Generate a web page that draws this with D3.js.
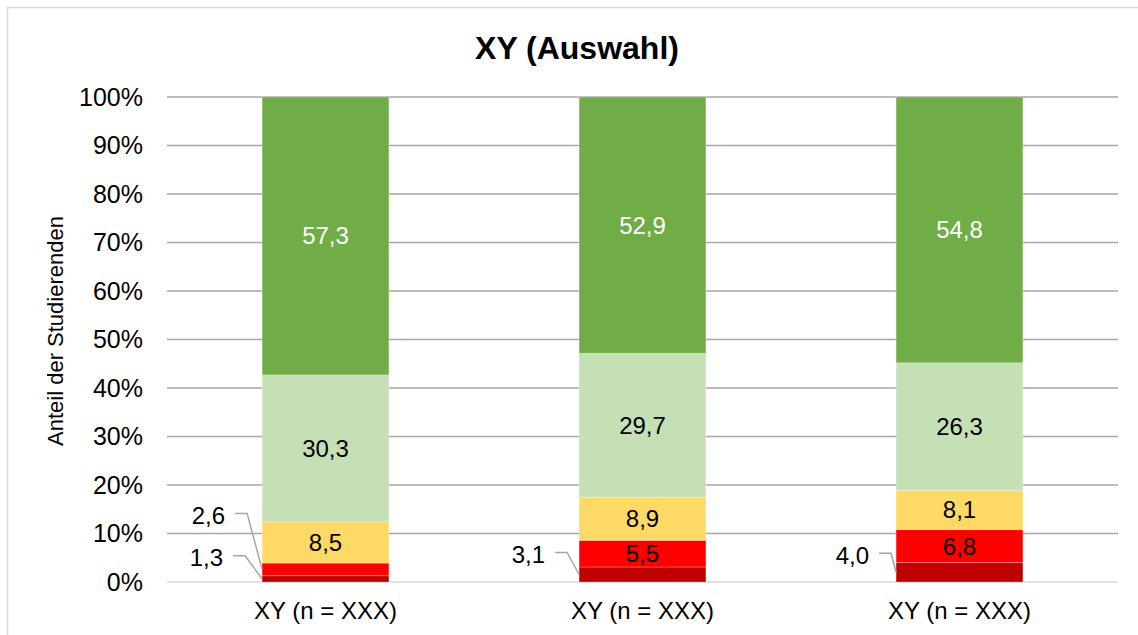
<!DOCTYPE html>
<html>
<head>
<meta charset="utf-8">
<script src="https://cdn.jsdelivr.net/npm/d3@7"></script>
<style>
    body { margin: 0; background: #fff; }
    text { font-family: "Liberation Sans", Arial, sans-serif; }
</style>
</head>
<body>
<div id="chart-container"></div>
<script>
// Daten (von unten nach oben gestapelt)
const categories = ["XY (n = XXX)", "XY (n = XXX)", "XY (n = XXX)"];
const seriesKeys = ["s1", "s2", "s3", "s4", "s5"];
const s1Values = [1.3, 3.1, 4.0];
const s2Values = [2.6, 5.5, 6.8];
const s3Values = [8.5, 8.9, 8.1];
const s4Values = [30.3, 29.7, 26.3];
const s5Values = [57.3, 52.9, 54.8];
const yTicks = [0, 0.1, 0.2, 0.3, 0.4, 0.5, 0.6, 0.7, 0.8, 0.9, 1.0];

const colors = ["#C00000", "#FF0000", "#FFD966", "#C5E0B4", "#70AD47"];
const labelColors = ["#000", "#000", "#000", "#000", "#fff"];

// Labels, die ausserhalb mit Fuehrungslinie stehen: [serie, kategorie, abstand links, hoehe ueber segment]
const outsideLabels = [
    { s: 0, c: 0, dx: 39, dy: -21 },
    { s: 1, c: 0, dx: 37, dy: -54 },
    { s: 0, c: 1, dx: 34, dy: -20 },
    { s: 0, c: 2, dx: 27, dy: -17 }
];

const allValues = [s1Values, s2Values, s3Values, s4Values, s5Values];
const rows = categories.map((name, i) => {
    const row = { idx: i, name: name };
    seriesKeys.forEach((k, j) => row[k] = allValues[j][i]);
    return row;
});

const fmt = v => v.toFixed(1).replace(".", ",");

function generateChart() {
    const W = 1138, H = 635;
    const margin = { top: 97, right: 20, bottom: 53, left: 167 };
    const width = W - margin.left - margin.right;
    const height = H - margin.top - margin.bottom;

    const root = d3.select("#chart-container").append("svg")
        .attr("width", W)
        .attr("height", H);

    root.append("rect")
        .attr("x", 7.5).attr("y", 7.5)
        .attr("width", 1160).attr("height", 660)
        .attr("fill", "#fff")
        .attr("stroke", "#D9D9D9")
        .attr("stroke-width", 1.5);

    root.append("text")
        .attr("x", 577)
        .attr("y", 59)
        .attr("text-anchor", "middle")
        .attr("font-size", "32px")
        .attr("font-weight", "bold")
        .text("XY (Auswahl)");

    root.append("text")
        .attr("transform", "translate(63,331) rotate(-90)")
        .attr("text-anchor", "middle")
        .attr("font-size", "22px")
        .text("Anteil der Studierenden");

    const svg = root.append("g")
        .attr("transform", `translate(${margin.left},${margin.top})`);

    const x = d3.scaleBand()
        .domain(rows.map(d => d.idx))
        .range([0, width])
        .padding(0);

    const y = d3.scaleLinear()
        .domain([0, 1])
        .range([height, 0]);

    const barW = x.bandwidth() * 0.4;
    const barX = i => x(i) + (x.bandwidth() - barW) / 2;

    // Gitterlinien
    svg.append("g")
        .selectAll("line")
        .data(yTicks)
        .enter().append("line")
        .attr("x1", 0).attr("x2", width)
        .attr("y1", d => y(d)).attr("y2", d => y(d))
        .attr("stroke", d => d === 0 ? "#D9D9D9" : "#A6A6A6")
        .attr("stroke-width", 1.5);

    // Y-Achse
    const yAxis = svg.append("g")
        .call(d3.axisLeft(y).tickValues(yTicks).tickFormat(d3.format(".0%")).tickSize(0).tickPadding(24));
    yAxis.select(".domain").remove();
    yAxis.selectAll("text")
        .attr("font-size", "25px")
        .attr("fill", "#000")
        .style("font-family", "'Liberation Sans', Arial, sans-serif");

    // X-Achse
    svg.append("g")
        .selectAll("text")
        .data(rows)
        .enter().append("text")
        .attr("x", d => x(d.idx) + x.bandwidth() / 2)
        .attr("y", 619 - margin.top)
        .attr("text-anchor", "middle")
        .attr("font-size", "24px")
        .text(d => d.name);

    const stacked = d3.stack()
        .keys(seriesKeys)
        .offset(d3.stackOffsetExpand)(rows);

    const layers = svg.selectAll(".layer")
        .data(stacked)
        .enter().append("g")
        .attr("class", "layer")
        .attr("fill", (d, i) => colors[i]);

    layers.selectAll("rect")
        .data(d => d)
        .enter().append("rect")
        .attr("x", d => barX(d.data.idx))
        .attr("y", d => y(d[1]))
        .attr("width", barW)
        .attr("height", d => y(d[0]) - y(d[1]))
        .attr("stroke", "rgba(255,255,255,0.25)")
        .attr("stroke-width", 1);

    const isOutside = (s, c) => outsideLabels.some(o => o.s === s && o.c === c);

    // Beschriftungen innen
    stacked.forEach((layer, s) => {
        layer.forEach((d, c) => {
            if (isOutside(s, c)) return;
            svg.append("text")
                .attr("x", barX(c) + barW / 2)
                .attr("y", (y(d[0]) + y(d[1])) / 2)
                .attr("dy", "0.35em")
                .attr("text-anchor", "middle")
                .attr("font-size", "24px")
                .attr("fill", labelColors[s])
                .text(fmt(d.data[seriesKeys[s]]));
        });
    });

    // Beschriftungen aussen mit Fuehrungslinie
    outsideLabels.forEach(o => {
        const d = stacked[o.s][o.c];
        const segY = (y(d[0]) + y(d[1])) / 2;
        const left = barX(o.c);
        const lx = left - o.dx;
        const ly = segY + o.dy;
        svg.append("text")
            .attr("x", lx)
            .attr("y", ly)
            .attr("dy", "0.35em")
            .attr("text-anchor", "end")
            .attr("font-size", "24px")
            .attr("fill", "#000")
            .text(fmt(d.data[seriesKeys[o.s]]));
        const x0 = lx + 10;
        const knee = Math.min(x0 + 12, left - 4);
        svg.append("path")
            .attr("d", d3.line()([[x0, ly - 2], [knee, ly - 2], [left, segY]]))
            .attr("fill", "none")
            .attr("stroke", "#A6A6A6")
            .attr("stroke-width", 1.5);
    });
}

generateChart();
</script>
</body>
</html>
